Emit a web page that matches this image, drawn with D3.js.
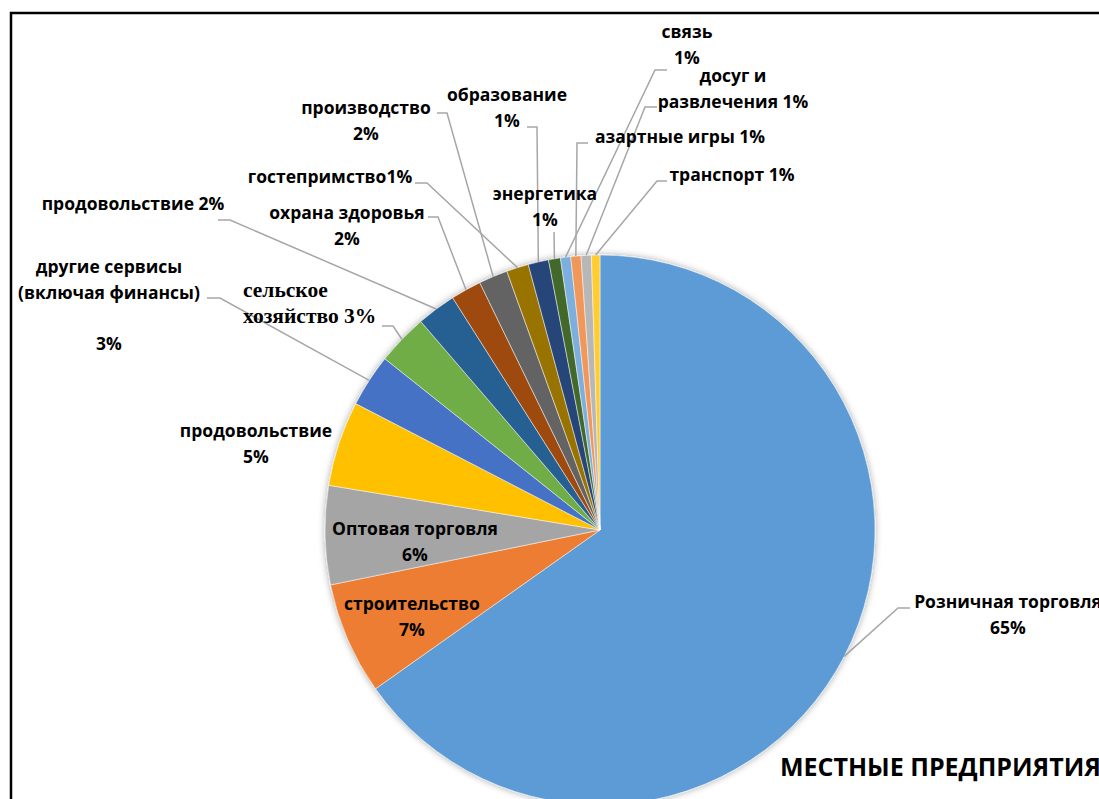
<!DOCTYPE html>
<html>
<head>
<meta charset="utf-8">
<script src="https://cdn.jsdelivr.net/npm/d3@7"></script>
<style>
  body { margin: 0; background: #fff; }
  svg { display: block; }
</style>
</head>
<body>
<svg id="chart"></svg>
<script>
// sectors of local enterprises, clockwise from 12 o'clock
const categories = ['Розничная торговля', 'строительство', 'Оптовая торговля', 'продовольствие',
    'другие сервисы (включая финансы)', 'сельское хозяйство', 'продовольствие', 'охрана здоровья',
    'производство', 'гостепримство', 'образование', 'энергетика', 'связь', 'азартные игры',
    'досуг и развлечения', 'транспорт']
const values = [65.2, 6.6, 5.8, 5.0, 3.1, 3.0, 2.3, 1.8, 1.7, 1.3, 1.2, 0.7, 0.6, 0.6, 0.6, 0.5]
// data label texts as they appear on the chart
const labelText = [
    ['Розничная торговля', '65%'],
    ['строительство', '7%'],
    ['Оптовая торговля', '6%'],
    ['продовольствие', '5%'],
    ['другие сервисы', '(включая финансы)', '', '3%'],
    ['сельское', 'хозяйство 3%'],
    ['продовольствие 2%'],
    ['охрана здоровья', '2%'],
    ['производство', '2%'],
    ['гостепримство1%'],
    ['образование', '1%'],
    ['энергетика', '1%'],
    ['связь', '1%'],
    ['азартные игры 1%'],
    ['досуг и', 'развлечения 1%'],
    ['транспорт 1%']
]
const title = 'МЕСТНЫЕ ПРЕДПРИЯТИЯ'

const colors = ['#5B9BD5', '#ED7D31', '#A5A5A5', '#FFC000', '#4472C4', '#70AD47', '#255E91', '#9E480E',
    '#636363', '#997300', '#264478', '#43682B', '#7CAFDD', '#F1975A', '#B7B7B7', '#FFCD33']

// label placement (moved by hand in the original): text x, first baseline, anchor,
// and the short horizontal start of the leader line (x0 -> x1 at y)
const labelLayout = [
    { x: 1008, y: 608, anchor: 'middle', lead: [910, 898, 608] },
    { x: 412, y: 610, anchor: 'middle', lead: null },
    { x: 415, y: 535, anchor: 'middle', lead: null },
    { x: 256, y: 437, anchor: 'middle', lead: null },
    { x: 109, y: 273, anchor: 'middle', lead: [207, 220, 298] },
    { x: 243, y: 297, anchor: 'start', lead: [382, 393, 326], serif: true },
    { x: 133, y: 210, anchor: 'middle', lead: [218, 230, 220] },
    { x: 347, y: 219, anchor: 'middle', lead: [428, 438, 217] },
    { x: 366, y: 114, anchor: 'middle', lead: [437, 447, 113] },
    { x: 330, y: 183, anchor: 'middle', lead: [415, 427, 183] },
    { x: 507, y: 101, anchor: 'middle', lead: [527, 537, 127] },
    { x: 545, y: 200, anchor: 'middle', lead: [554, 554, 232] },
    { x: 687, y: 38, anchor: 'middle', lead: [667, 655, 70] },
    { x: 680, y: 143, anchor: 'middle', lead: [588, 577, 143] },
    { x: 733, y: 82, anchor: 'middle', lead: [657, 645, 107] },
    { x: 732, y: 181, anchor: 'middle', lead: [667, 657, 181] }
]

drawChart()

function drawChart() {
    let svgWidth = 1099, svgHeight = 799
    let cx = 600, cy = 530, radius = 275

    let svg = d3.select('#chart')
        .attr('width', svgWidth)
        .attr('height', svgHeight)

    let defs = svg.append('defs')
    defs.append('filter')
        .attr('id', 'shadow')
        .attr('x', '-10%').attr('y', '-10%')
        .attr('width', '120%').attr('height', '120%')
        .append('feDropShadow')
        .attr('dx', 0).attr('dy', 0)
        .attr('stdDeviation', 3.5)
        .attr('flood-color', '#000')
        .attr('flood-opacity', 0.35)

    // chart area frame, cut off by the screenshot on the right and bottom
    svg.append('rect')
        .attr('x', 11).attr('y', 13)
        .attr('width', 1200).attr('height', 900)
        .attr('fill', 'none')
        .attr('stroke', '#000')
        .attr('stroke-width', 2.5)

    let pie = d3.pie().sort(null).value(d => d)
    let arcs = pie(values)
    let arc = d3.arc().innerRadius(0).outerRadius(radius)
    let edge = d3.arc().innerRadius(radius).outerRadius(radius)

    let g = svg.append('g')
        .attr('transform', 'translate(' + cx + ',' + cy + ')')

    g.append('g')
        .attr('filter', 'url(#shadow)')
        .selectAll('path')
        .data(arcs)
        .join('path')
        .attr('d', arc)
        .attr('fill', (d, i) => colors[i])
        .attr('stroke', '#fff')
        .attr('stroke-width', 0.5)

    // leader lines: short horizontal piece next to the label, then to the middle of the arc
    let leaders = svg.append('g')
    arcs.forEach(function(d, i) {
        let lay = labelLayout[i]
        if (!lay.lead) return
        let p = edge.centroid(d)
        let pts = [[lay.lead[0], lay.lead[2]], [lay.lead[1], lay.lead[2]], [p[0] + cx, p[1] + cy]]
        leaders.append('path')
            .attr('d', d3.line()(pts))
            .attr('fill', 'none')
            .attr('stroke', '#A6A6A6')
            .attr('stroke-width', 1.5)
    })

    let labels = svg.append('g')
    labelText.forEach(function(lines, i) {
        let lay = labelLayout[i]
        let t = labels.append('text')
            .attr('x', lay.x)
            .attr('y', lay.y)
            .attr('text-anchor', lay.anchor)
            .attr('font-family', lay.serif ? '"Liberation Serif", "DejaVu Serif", serif' : '"Open Sans", sans-serif')
            .attr('font-size', lay.serif ? 21.5 : 17.5)
            .attr('font-weight', 'bold')
            .attr('fill', '#000')
        lines.forEach(function(line, k) {
            t.append('tspan')
                .attr('x', lay.x)
                .attr('y', lay.y + k * (lay.serif ? 26 : 25.7))
                .text(line)
        })
    })

    svg.append('text')
        .attr('x', 780)
        .attr('y', 776)
        .attr('font-family', '"Open Sans", sans-serif')
        .attr('font-size', 25)
        .attr('font-weight', 'bold')
        .attr('fill', '#000')
        .text(title)
}
</script>
</body>
</html>
